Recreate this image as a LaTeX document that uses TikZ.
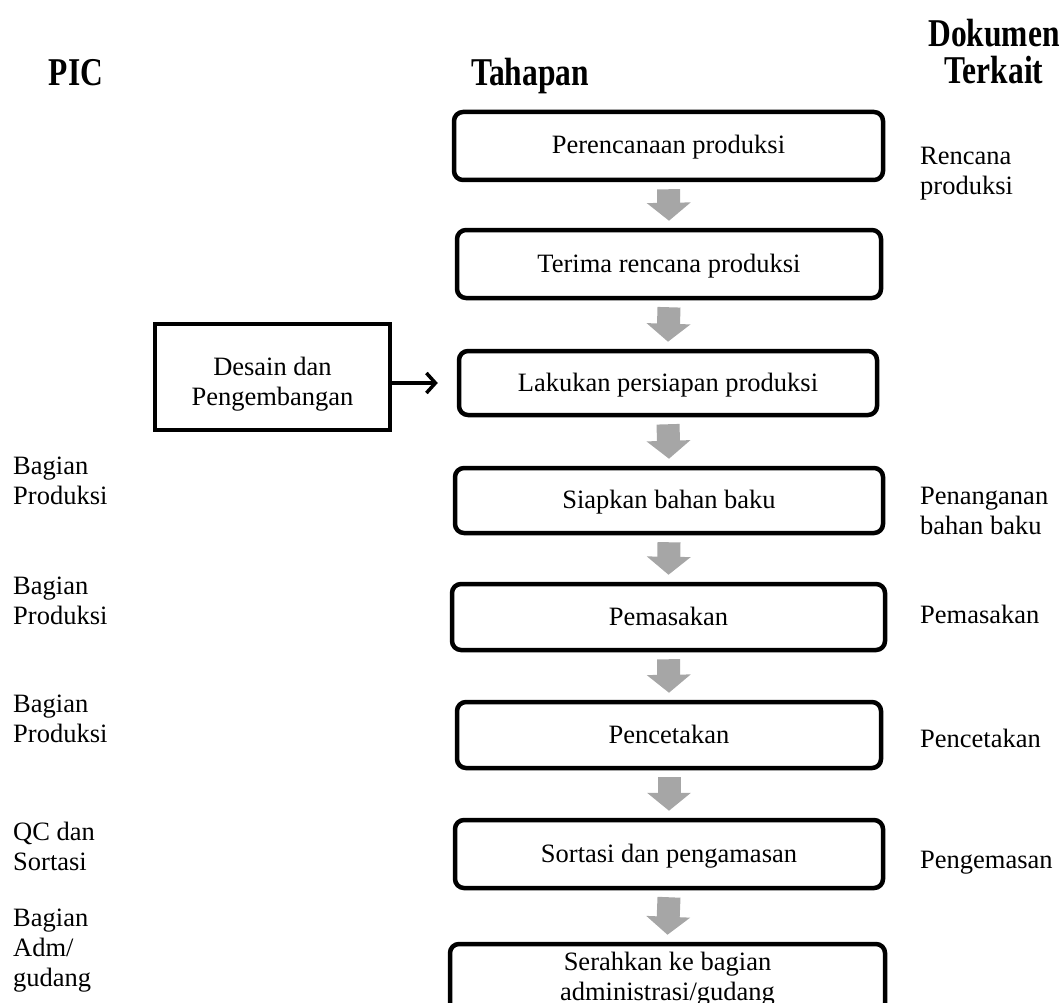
\documentclass[tikz,border=0pt]{standalone}
\usepackage{fontspec}
\usepackage{graphicx}
\setmainfont{Liberation Serif}
\usetikzlibrary{arrows.meta,calc}
\newcommand\mybody{\fontsize{26.5}{30}\selectfont}
\newcommand\myhead{\fontsize{31.5}{28}\selectfont\bfseries}
\newcommand\headtall[1]{\scalebox{1}[1.25]{\begin{tabular}[b]{@{}c@{}}#1\end{tabular}}}
\definecolor{arrowgray}{HTML}{A6A6A6}
\begin{document}
\begin{tikzpicture}[x=1pt,y=-1pt,
  stepbox/.style={draw, line width=4.5pt, rounded corners=9pt, inner sep=0pt, font=\mybody, align=center},
  onebox/.style={stepbox, text height=21pt, text depth=5pt},
  sidebox/.style={draw, line width=4pt, inner sep=0pt, font=\mybody, align=center},
  garrow/.style={draw=arrowgray, line width=23pt, line cap=butt, -{Triangle[width=43pt,length=18pt]}},
  sidetext/.style={font=\mybody, align=left, inner sep=0pt, anchor=base west},
  headtext/.style={font=\myhead, inner sep=0pt, anchor=base}
]
\useasboundingbox (0,0) rectangle (1062,1003);
\clip (0,0) rectangle (1062,1003);

% headers
\node[headtext] (hpic) at (76,86) {\headtall{PIC}};
\node[headtext] (htah) at (530,86) {\headtall{Tahapan}};
\node[headtext] (hdok) at (994,84) {\headtall{Dokumen\\Terkait}};

% step boxes
\node[onebox, minimum width=429, minimum height=68] (b1) at (668.5,146) {Perencanaan produksi};
\node[onebox, minimum width=424, minimum height=68] (b2) at (669,264) {Terima rencana produksi};
\node[onebox, minimum width=418, minimum height=64] (b3) at (668,383) {Lakukan persiapan produksi};
\node[onebox, minimum width=428, minimum height=65] (b4) at (669,500.5) {Siapkan bahan baku};
\node[onebox, minimum width=433, minimum height=66] (b5) at (668.5,617) {Pemasakan};
\node[onebox, minimum width=424, minimum height=66] (b6) at (669,735) {Pencetakan};
\node[onebox, minimum width=428, minimum height=68] (b7) at (669,854) {Sortasi dan pengamasan};
\node[stepbox, minimum width=435, minimum height=70] (b8) at (667.5,979) {Serahkan ke bagian\\administrasi/gudang};

% side box
\node[sidebox, minimum width=235, minimum height=106, text height=60pt, text depth=4pt] (des) at (272.5,377) {Desain dan\\Pengembangan};

% gray block arrows
\foreach \a/\b in {b1/b2,b2/b3,b3/b4,b4/b5,b5/b6,b6/b7,b7/b8}{
  \draw[garrow] ($(\a.south)+(0,7)$) -- ($(\b.north)+(0,-7)$);
}

% side arrow
\draw[line width=3.5pt, -{Straight Barb[length=9pt,width=20pt]}] (des.east |- b3.west) -- ($(b3.west)+(-19,0)$);

% PIC texts (anchor = baseline of last line)
\node[sidetext] (p1) at (13,504) {Bagian\\Produksi};
\node[sidetext] (p2) at (13,624) {Bagian\\Produksi};
\node[sidetext] (p3) at (13,742) {Bagian\\Produksi};
\node[sidetext] (p4) at (13,870) {QC dan\\Sortasi};
\node[sidetext] (p5) at (13,986) {Bagian\\Adm/\\gudang};

% documents
\node[sidetext] (d1) at (920,195) {Rencana\\produksi};
\node[sidetext] (d2) at (920,534) {Penanganan\\bahan baku};
\node[sidetext] (d3) at (920,623) {Pemasakan};
\node[sidetext] (d4) at (920,747) {Pencetakan};
\node[sidetext] (d5) at (920,868) {Pengemasan};
\end{tikzpicture}
\end{document}
